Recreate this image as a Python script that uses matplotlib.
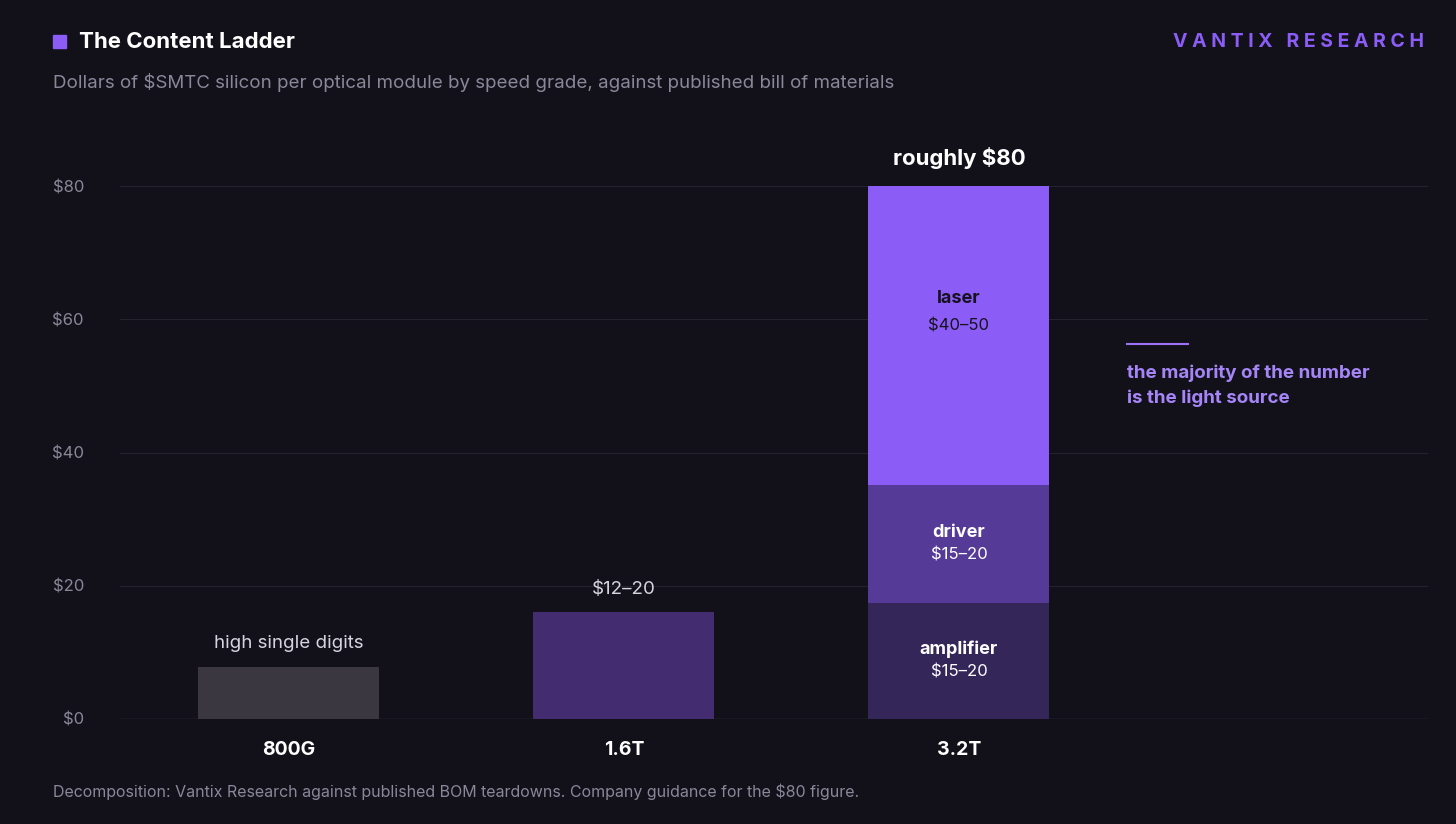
import matplotlib
matplotlib.use("Agg")
import matplotlib.pyplot as plt
from matplotlib.patches import Rectangle

plt.rcParams['font.family'] = ['Inter', 'DejaVu Sans']

grades = ["800G", "1.6T", "3.2T"]
single_vals = [7.8, 16.0]
single_labels = ["high single digits", "$12–20"]
stack_names = ["amplifier", "driver", "laser"]
stack_vals = [17.4, 17.7, 44.9]
stack_ranges = ["$15–20", "$15–20", "$40–50"]
yticks = [0, 20, 40, 60, 80]

BG = "#12111a"
fig = plt.figure(figsize=(14.56, 8.24), dpi=100, facecolor=BG)
ax = fig.add_axes([120/1456, 1-719/824, 1308/1456, 533/824], facecolor=BG)
ax.set_xlim(-0.504, 3.4)
ax.set_ylim(0, 80)
for s in ax.spines.values():
    s.set_visible(False)
ax.axhline(0, color="#3a3945", lw=1, zorder=1)
for t in yticks[1:]:
    ax.axhline(t, color="#23222d", lw=0.8, zorder=0)
ax.set_yticks(yticks)
ax.set_yticklabels([f"${t}" for t in yticks], color="#8a8799", fontsize=12)
ax.tick_params(axis="y", length=0, pad=26)
ax.set_xticks(range(3))
ax.set_xticklabels(grades, color="white", fontsize=14, fontweight="bold")
ax.tick_params(axis="x", length=0, pad=16)

w = 0.54
ax.bar([0, 1], single_vals, width=w, color=["#3a3740", "#432c70"], zorder=2)
for i, (v, lab) in enumerate(zip(single_vals, single_labels)):
    ax.text(i, v + 2.2, lab, ha="center", va="bottom", color="#d6d4de", fontsize=13.5)

cols = ["#35265a", "#553a97", "#8b5cf6"]
bottom = 0
for name, v, r, c in zip(stack_names, stack_vals, stack_ranges, cols):
    ax.bar(2, v, bottom=bottom, width=w, color=c, zorder=2)
    mid = bottom + v / 2
    tc = "#16121f" if name == "laser" else "white"
    off = 2.0 if name == "laser" else 1.7
    ax.text(2, mid + off + (3.5 if name == "laser" else 0), name, ha="center", va="center",
            color=tc, fontsize=13, fontweight="bold")
    ax.text(2, mid - off + (3.5 if name == "laser" else 0), r, ha="center", va="center",
            color=tc, fontsize=12)
    bottom += v
ax.text(2, bottom + 2.6, "roughly $80", ha="center", va="bottom", color="white",
        fontsize=16, fontweight="bold")

fig.lines.append(plt.Line2D([1127/1456, 1188/1456], [1-344/824]*2, color="#9b72f7",
                            lw=1.5, transform=fig.transFigure))
fig.text(1127/1456, 1-386/824, "the majority of the number\nis the light source",
         color="#a585f8", fontsize=13.5, fontweight="bold", linespacing=1.55, va="center")

fig.patches.append(Rectangle((53/1456, 1-48/824), 13/1456, 13/824, color="#8b5cf6",
                             transform=fig.transFigure))
fig.text(79/1456, 1-42/824, "The Content Ladder", color="white", fontsize=16,
         fontweight="bold", va="center")
fig.text(1424/1456, 1-42/824, "V A N T I X   R E S E A R C H", color="#8b5cf6",
         fontsize=14, fontweight="bold", va="center", ha="right")
fig.text(53/1456, 1-82/824,
         "Dollars of $SMTC silicon per optical module by speed grade, against published bill of materials",
         color="#8a8799", fontsize=13.5, va="center")
fig.text(53/1456, 1-792/824,
         "Decomposition: Vantix Research against published BOM teardowns. Company guidance for the $80 figure.",
         color="#8a8799", fontsize=11.5, va="center")

fig.savefig("out.png", dpi=100, facecolor=BG)
